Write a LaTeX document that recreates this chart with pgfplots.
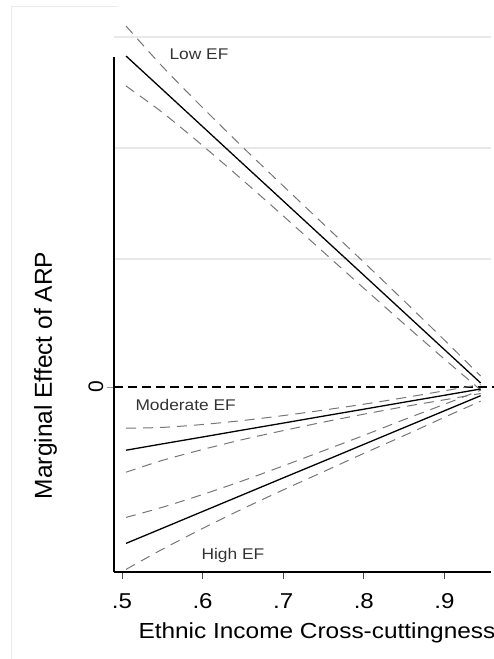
\documentclass[border=0pt]{standalone}
\usepackage{fontspec}
\setmainfont{Liberation Sans}[FakeStretch=1.12]
\newfontfamily\plainsans{Liberation Sans}
\usepackage{pgfplots}
\pgfplotsset{compat=1.18}
\definecolor{bandgray}{HTML}{767676}
\definecolor{labgray}{HTML}{333333}
\begin{document}
\begin{tikzpicture}
\begin{axis}[
  x=806pt, y=100pt,
  xmin=0.49, xmax=0.958, ymin=-1.85, ymax=3.72,
  clip=false,
  axis lines*=left,
  axis line style={-},
  x axis line style={black, line width=1.2pt},
  y axis line style={draw=none},
  xtick={0.5,0.6,0.7,0.8,0.9},
  xticklabels={.5,.6,.7,.8,.9},
  ytick={0}, yticklabels={0},
  minor ytick={1.28,2.39,3.50},
  yminorgrids=true,
  minor grid style={color=black!9, line width=1.3pt},
  minor tick length=0pt,
  tick align=outside,
  major tick length=7pt,
  xtick style={black!70, line width=0.9pt},
  ytick style={black!40, line width=0.9pt},
  /pgf/number format/assume math mode=true,
  xticklabel style={font=\fontsize{21.5}{21.5}\selectfont, text=black, yshift=-11pt},
  yticklabel style={rotate=90, anchor=south, font=\plainsans\fontsize{21}{21}\selectfont},
  xlabel={Ethnic Income Cross-cuttingness},
  xlabel style={at={(axis description cs:0.0558,-0.1185)}, anchor=base west, font=\fontsize{21.8}{22}\selectfont},
  ylabel={Marginal Effect of ARP},
  ylabel style={at={(axis description cs:-0.1645,0.3528)}, anchor=base, font=\plainsans\fontsize{24.5}{25}\selectfont},
  band/.style={bandgray, line width=1pt, dash pattern=on 10pt off 7pt},
  est/.style={black, line width=1.3pt},
]
% zero reference line
\addplot[black, line width=2.2pt, dash pattern=on 9pt off 5pt] coordinates {(0.49,0) (0.961,0)};

% Low EF
\addplot[band, smooth] coordinates {(0.505,3.61) (0.55,3.206) (0.60,2.794) (0.65,2.397) (0.70,2.011) (0.75,1.629) (0.80,1.248) (0.85,0.861) (0.90,0.469) (0.945,0.11)};
\addplot[est] coordinates {(0.505,3.31) (0.55,2.976) (0.60,2.604) (0.65,2.232) (0.70,1.861) (0.75,1.489) (0.80,1.118) (0.85,0.746) (0.90,0.374) (0.945,0.04)};
\addplot[band, smooth] coordinates {(0.505,3.01) (0.55,2.746) (0.60,2.414) (0.65,2.067) (0.70,1.711) (0.75,1.349) (0.80,0.988) (0.85,0.631) (0.90,0.279) (0.945,-0.03)};

% Moderate EF
\addplot[band, smooth] coordinates {(0.505,-0.412) (0.55,-0.404) (0.60,-0.375) (0.65,-0.335) (0.70,-0.286) (0.75,-0.231) (0.80,-0.172) (0.85,-0.107) (0.90,-0.038) (0.945,0.025)};
\addplot[est] coordinates {(0.505,-0.632) (0.55,-0.569) (0.60,-0.500) (0.65,-0.430) (0.70,-0.361) (0.75,-0.291) (0.80,-0.222) (0.85,-0.152) (0.90,-0.083) (0.945,-0.02)};
\addplot[band, smooth] coordinates {(0.505,-0.852) (0.55,-0.734) (0.60,-0.625) (0.65,-0.525) (0.70,-0.436) (0.75,-0.351) (0.80,-0.272) (0.85,-0.197) (0.90,-0.128) (0.945,-0.065)};

% High EF
\addplot[band, smooth] coordinates {(0.505,-1.304) (0.55,-1.203) (0.60,-1.075) (0.65,-0.937) (0.70,-0.789) (0.75,-0.637) (0.80,-0.484) (0.85,-0.326) (0.90,-0.173) (0.945,-0.032)};
\addplot[est] coordinates {(0.505,-1.564) (0.55,-1.413) (0.60,-1.245) (0.65,-1.077) (0.70,-0.909) (0.75,-0.742) (0.80,-0.574) (0.85,-0.406) (0.90,-0.238) (0.945,-0.087)};
\addplot[band, smooth] coordinates {(0.505,-1.824) (0.55,-1.623) (0.60,-1.415) (0.65,-1.217) (0.70,-1.029) (0.75,-0.847) (0.80,-0.664) (0.85,-0.486) (0.90,-0.303) (0.945,-0.142)};

% group labels
\node[anchor=base west, font=\fontsize{15.5}{15.5}\selectfont, text=labgray] at (axis cs:0.5546,3.27) {Low EF};
\node[anchor=base west, font=\fontsize{15.5}{15.5}\selectfont, text=labgray] at (axis cs:0.5124,-0.24) {Moderate EF};
\node[anchor=base west, font=\fontsize{15.5}{15.5}\selectfont, text=labgray] at (axis cs:0.5943,-1.72) {High EF};

% left spine (stops below the top of the plot region)
\draw[black, line width=1.2pt] (axis cs:0.49,-1.85) -- (axis cs:0.49,3.30);
% faint frame of the graph region
\draw[black!8, line width=1pt] (axis cs:0.3635,-2.72) -- (axis cs:0.3635,3.80) -- (axis cs:0.495,3.80);

\coordinate (TL) at (axis cs:0.34864,3.87);
\coordinate (BR) at (axis cs:0.96154,-2.72);
\end{axis}
\pgfresetboundingbox
\path[use as bounding box] (TL) rectangle (BR);
\end{tikzpicture}
\end{document}
